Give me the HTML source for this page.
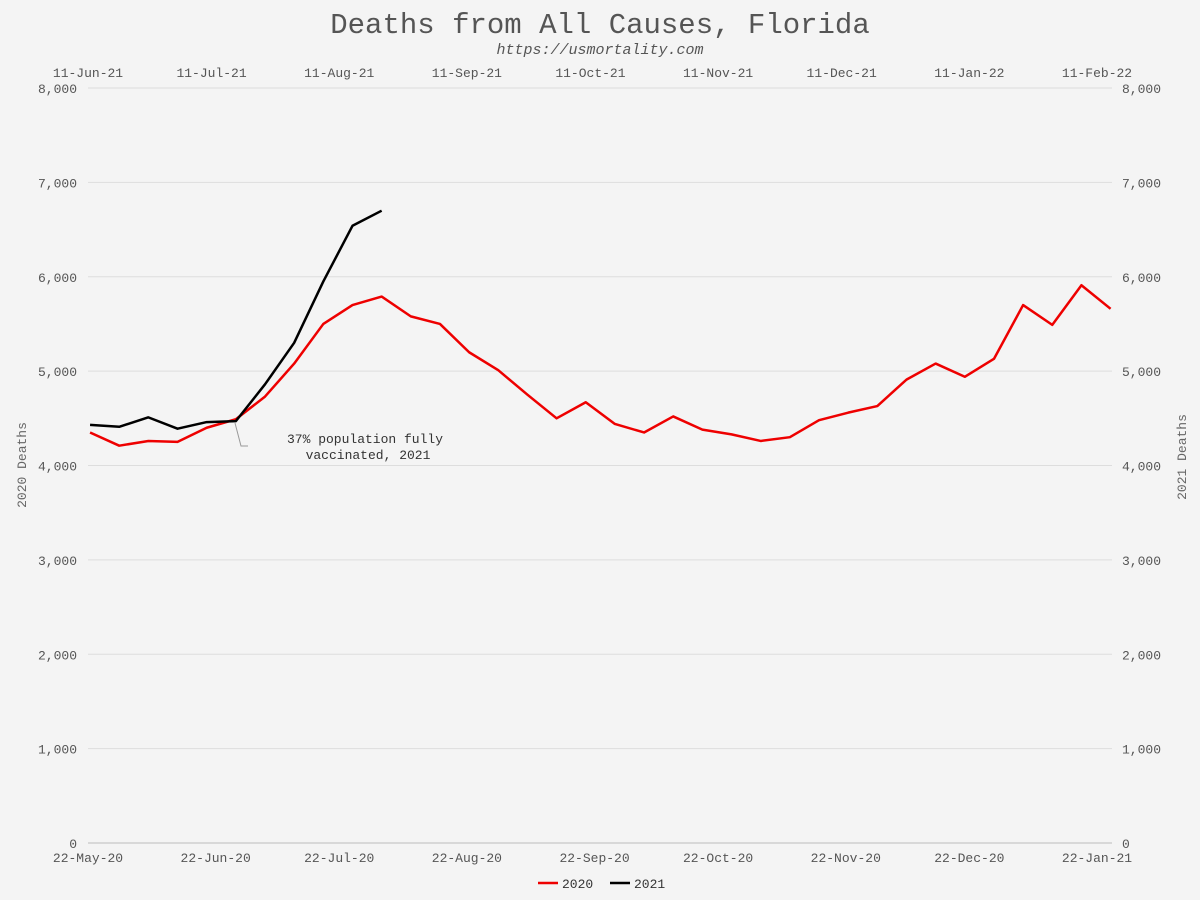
<!DOCTYPE html>
<html><head><meta charset="utf-8"><style>
body{margin:0;background:#f4f4f4;}
svg{display:block;font-family:"Liberation Mono",monospace;}
</style></head><body>
<svg id="chart" width="1200" height="900">
<rect width="1200" height="900" fill="#f4f4f4"/>
<text x="600" y="33" text-anchor="middle" font-size="29" fill="#555">Deaths from All Causes, Florida</text>
<text x="600" y="54" text-anchor="middle" font-size="15" font-style="italic" fill="#555">https://usmortality.com</text>
<g id="grid"></g><g id="axes"></g><g id="series"></g>
<text transform="translate(26,465) rotate(-90)" text-anchor="middle" font-size="13" fill="#666">2020 Deaths</text>
<text transform="translate(1186,457) rotate(-90)" text-anchor="middle" font-size="13" fill="#666">2021 Deaths</text>
<polyline points="235,423 241,446 248,446" fill="none" stroke="#999" stroke-width="1"/>
<text x="365" y="443" text-anchor="middle" font-size="13" fill="#333">37% population fully</text>
<text x="368" y="459" text-anchor="middle" font-size="13" fill="#333">vaccinated, 2021</text>
<g>
<line x1="538" y1="883" x2="558" y2="883" stroke="#e00" stroke-width="2.5"/>
<text x="562" y="888" font-size="13" fill="#333">2020</text>
<line x1="610" y1="883" x2="630" y2="883" stroke="#000" stroke-width="2.5"/>
<text x="634" y="888" font-size="13" fill="#333">2021</text>
</g>
</svg>
<script>
const yTicks=[0,1000,2000,3000,4000,5000,6000,7000,8000];
const bottomLabels=["22-May-20","22-Jun-20","22-Jul-20","22-Aug-20","22-Sep-20","22-Oct-20","22-Nov-20","22-Dec-20","22-Jan-21"];
const bottomDays=[0,31,61,92,123,153,184,214,245];
const topLabels=["11-Jun-21","11-Jul-21","11-Aug-21","11-Sep-21","11-Oct-21","11-Nov-21","11-Dec-21","11-Jan-22","11-Feb-22"];
const topDays=[0,30,61,92,122,153,183,214,245];
const deaths2020=[4350,4210,4260,4250,4400,4490,4730,5080,5500,5700,5790,5580,5500,5200,5010,4750,4500,4670,4440,4350,4520,4380,4330,4260,4300,4480,4560,4630,4910,5080,4940,5130,5700,5490,5910,5660];
const deaths2021=[4430,4410,4510,4390,4460,4470,4860,5300,5950,6540,6700];
const X0=88,X1=1097,Y0=843,Y1=88;
const xs=d=>X0+d*(X1-X0)/245;
const ys=v=>Y0-v*(Y0-Y1)/8000;
const NS="http://www.w3.org/2000/svg";
function mk(tag,attrs,parent,txt){const e=document.createElementNS(NS,tag);for(const k in attrs)e.setAttribute(k,attrs[k]);if(txt!==undefined)e.textContent=txt;parent.appendChild(e);return e;}
const grid=document.getElementById('grid'),axes=document.getElementById('axes'),ser=document.getElementById('series');
const fmt=v=>v.toLocaleString('en-US');
yTicks.forEach(v=>{
 const g=mk('line',{x1:X0,x2:1112,y1:ys(v),y2:ys(v),stroke:v===0?'#bbb':'#ddd','stroke-width':1},grid);
 
 
 const l=mk('text',{x:77,y:ys(v)+5,'text-anchor':'end','font-size':13,fill:'#555'},axes,fmt(v));
 
 
 const r=mk('text',{x:1122,y:ys(v)+5,'font-size':13,fill:'#555'},axes,fmt(v));
 
 
});
bottomLabels.forEach((t,i)=>{
 const e=mk('text',{x:xs(bottomDays[i]),y:862,'text-anchor':'middle','font-size':13,fill:'#555'},axes,t);
 
 
});
topLabels.forEach((t,i)=>{
 const e=mk('text',{x:xs(topDays[i]),y:77,'text-anchor':'middle','font-size':13,fill:'#555'},axes,t);
 
 
});
function line(data,color,name){
 const pts=data.map((v,i)=>xs(0.5+i*7.08)+','+ys(v)).join(' ');
 const p=mk('polyline',{points:pts,fill:'none',stroke:color,'stroke-width':2.5,'stroke-linejoin':'round'},ser);
 
 
}
line(deaths2020,'#e00','line-2020');
line(deaths2021,'#000','line-2021');
</script>
</body></html>
